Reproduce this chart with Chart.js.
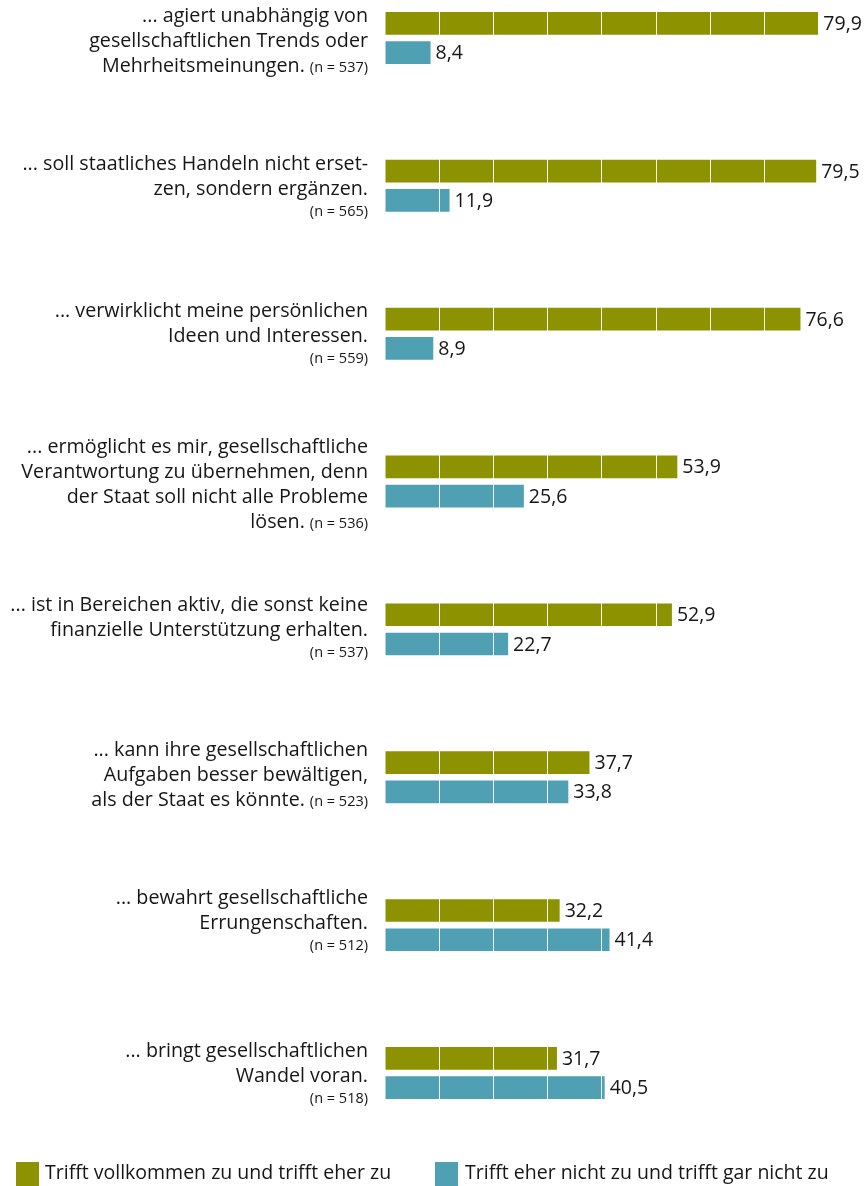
<!DOCTYPE html>
<html><head><meta charset="utf-8">
<script src="https://cdn.jsdelivr.net/npm/chart.js@4"></script>
<style>
html,body{margin:0;padding:0;background:#fff;}
#wrap{position:relative;width:868px;height:1186px;overflow:hidden;}
canvas{position:absolute;left:0;top:-36px;}
.lg{position:absolute;top:1162px;height:24px;font:19.5px "Open Sans";color:#161615;white-space:nowrap;}
.lg span.sw{position:absolute;left:0;top:0;width:23px;height:24px;}
.lg span.tx{position:absolute;top:-2px;line-height:24px;}
</style></head>
<body><div id="wrap"><canvas id="c" width="868" height="1222"></canvas>
<div class="lg" style="left:16px"><span class="sw" style="background:#8d9200"></span><span class="tx" style="left:29px">Trifft vollkommen zu und trifft eher zu</span></div>
<div class="lg" style="left:435px"><span class="sw" style="background:#4fa0b3"></span><span class="tx" style="left:30px">Trifft eher nicht zu und trifft gar nicht zu</span></div>
</div>
<script>
const labelLines = [
  ["... agiert unabhängig von","gesellschaftlichen Trends oder","Mehrheitsmeinungen."],
  ["... soll staatliches Handeln nicht erset-","zen, sondern ergänzen."],
  ["... verwirklicht meine persönlichen","Ideen und Interessen."],
  ["... ermöglicht es mir, gesellschaftliche","Verantwortung zu übernehmen, denn","der Staat soll nicht alle Probleme","lösen."],
  ["... ist in Bereichen aktiv, die sonst keine","finanzielle Unterstützung erhalten."],
  ["... kann ihre gesellschaftlichen","Aufgaben besser bewältigen,","als der Staat es könnte."],
  ["... bewahrt gesellschaftliche","Errungenschaften."],
  ["... bringt gesellschaftlichen","Wandel voran."]
];
const sampleSizes = [537,565,559,536,537,523,512,518];
const nInline = [true,false,false,true,false,true,false,false];
const categories = labelLines.map(l => l.join(" "));
const seriesAgree = [79.9,79.5,76.6,53.9,52.9,37.7,32.2,31.7];
const seriesDisagree = [8.4,11.9,8.9,25.6,22.7,33.8,41.4,40.5];
const seriesNames = ["Trifft vollkommen zu und trifft eher zu","Trifft eher nicht zu und trifft gar nicht zu"];
const xTicksMax = 80;

const FAM = '"Open Sans"';
const BIG = '19.7px ' + FAM, SMALL = '14.5px ' + FAM, VAL = '19.5px ' + FAM;
const TXT = '#161615';

const labelPlugin = {
  id: 'labels',
  afterDraw(chart) {
    const ctx = chart.ctx, y = chart.scales.y;
    const nudge = [0, -0.5, -1, -1, -3, -6, -5.5, 0];
    ctx.save();
    ctx.fillStyle = TXT;
    ctx.textBaseline = 'alphabetic';
    ctx.textAlign = 'right';
    const xr = 368, lh = 25, slh = 21;
    labelLines.forEach((lines, i) => {
      const c = y.getPixelForValue(i) + nudge[i];
      const n = lines.length + (nInline[i] ? 0 : 1);
      let b = c + 9.5 - (n - 1) / 2 * lh;
      lines.forEach((t, j) => {
        const last = j === lines.length - 1;
        if (last && nInline[i]) {
          ctx.font = SMALL;
          const s = '(n = ' + sampleSizes[i] + ')';
          ctx.fillText(s, xr, b);
          const w = ctx.measureText(s).width;
          ctx.font = BIG;
          ctx.fillText(t, xr - w - 5, b);
        } else {
          ctx.font = BIG;
          ctx.fillText(t, xr, b);
        }
        b += lh;
      });
      if (!nInline[i]) {
        ctx.font = SMALL;
        ctx.fillText('(n = ' + sampleSizes[i] + ')', xr, b - lh + slh);
      }
    });
    ctx.textAlign = 'left';
    ctx.textBaseline = 'middle';
    ctx.font = VAL;
    chart.data.datasets.forEach((ds, di) => {
      chart.getDatasetMeta(di).data.forEach((el, k) => {
        ctx.fillText(ds.data[k].toFixed(1).replace('.', ','), el.x + 5, el.y + 1);
      });
    });
    ctx.restore();
  }
};

new Chart(document.getElementById('c'), {
  type: 'bar',
  data: {
    labels: categories,
    datasets: [
      {label: seriesNames[0], data: seriesAgree, backgroundColor: '#8d9200', categoryPercentage: 0.3957, barPercentage: 0.776},
      {label: seriesNames[1], data: seriesDisagree, backgroundColor: '#4fa0b3', categoryPercentage: 0.3957, barPercentage: 0.776}
    ]
  },
  options: {
    indexAxis: 'y',
    responsive: false,
    animation: false,
    devicePixelRatio: 1,
    layout: {padding: {left: 385, right: 49.1, top: 0, bottom: 39.1}},
    plugins: {legend: {display: false}, tooltip: {enabled: false}},
    scales: {
      y: {type: 'category', display: false, offset: true},
      x: {
        min: 0, max: xTicksMax, display: true,
        ticks: {display: false, stepSize: 10},
        border: {display: false},
        grid: {z: 1, drawTicks: false, lineWidth: 1, color: (c) => c.tick && c.tick.value === 0 ? 'rgba(0,0,0,0)' : 'rgba(255,255,255,0.92)'}
      }
    }
  },
  plugins: [labelPlugin]
});
</script></body></html>
